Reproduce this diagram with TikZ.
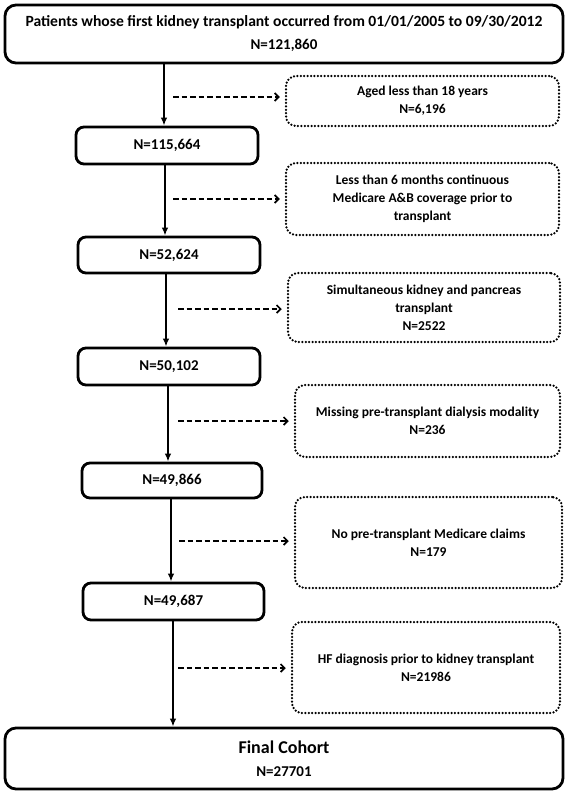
\documentclass[tikz,border=0pt]{standalone}
\usepackage{fontspec}
\setmainfont{Carlito}
\usetikzlibrary{arrows.meta,calc}
\begin{document}
\begin{tikzpicture}[x=1pt,y=-1pt,
  mainbox/.style={draw=black, line width=2.8pt, rounded corners=8pt, inner sep=0pt, align=center, font=\fontsize{15}{23}\selectfont\bfseries},
  widebox/.style={mainbox, rounded corners=11pt},
  exclbox/.style={draw=black, line width=2.5pt, dash pattern=on 0pt off 3.4pt, line cap=round, rounded corners=10pt, inner sep=0pt, align=center, font=\fontsize{13.5}{18}\selectfont\bfseries},
  flow/.style={line width=1.6pt, -{Latex[length=8pt,width=6.5pt]}},
  excl/.style={line width=1.6pt, dash pattern=on 5.5pt off 3pt, -{Straight Barb[length=4pt,width=8pt,line width=1.6pt]}, shorten >=5pt},
]
\useasboundingbox (0,0) rectangle (569,795);

\node[widebox, minimum width=558pt, minimum height=58pt] (top) at (284,34)
  {{\fontsize{15.6}{23}\selectfont Patients whose first kidney transplant occurred from 01/01/2005 to 09/30/2012}\\N=121,860};
\node[mainbox, minimum width=182pt, minimum height=37pt] (b1) at (167,145.5) {N=115,664};
\node[mainbox, minimum width=182pt, minimum height=36pt] (b2) at (169,255) {N=52,624};
\node[mainbox, minimum width=182pt, minimum height=37pt] (b3) at (169,366.5) {N=50,102};
\node[mainbox, minimum width=180pt, minimum height=35pt] (b4) at (172,480.5) {N=49,866};
\node[mainbox, minimum width=181pt, minimum height=37pt] (b5) at (173.5,601.5) {N=49,687};
\node[widebox, minimum width=558pt, minimum height=61pt] (final) at (284,758.5)
  {{\fontsize{18}{23}\selectfont Final Cohort}\\N=27701};

\node[exclbox, minimum width=273pt, minimum height=50pt] (d1) at (422.5,101)
  {Aged less than 18 years\\N=6,196};
\node[exclbox, minimum width=273pt, minimum height=72pt] (d2) at (422.5,199)
  {Less than 6 months continuous\\Medicare A\&B coverage prior to\\transplant};
\node[exclbox, minimum width=272pt, minimum height=69pt] (d3) at (424,307.5)
  {Simultaneous kidney and pancreas\\transplant\\N=2522};
\node[exclbox, minimum width=265pt, minimum height=72pt] (d4) at (427.5,421)
  {Missing pre-transplant dialysis modality\\N=236};
\node[exclbox, minimum width=267pt, minimum height=91pt] (d5) at (428.5,542.5)
  {No pre-transplant Medicare claims\\N=179};
\node[exclbox, minimum width=268pt, minimum height=91pt] (d6) at (426,667.5)
  {HF diagnosis prior to kidney transplant\\N=21986};

\draw[flow] (top.south -| 164,0) -- (164,0 |- b1.north);
\draw[flow] (b1.south -| 165,0) -- (165,0 |- b2.north);
\draw[flow] (b2.south -| 166,0) -- (166,0 |- b3.north);
\draw[flow] (b3.south -| 168,0) -- (168,0 |- b4.north);
\draw[flow] (b4.south -| 171,0) -- (171,0 |- b5.north);
\draw[flow] (b5.south -| 173,0) -- (173,0 |- final.north);

\coordinate (s1) at (173,97);
\coordinate (s2) at (173,199);
\coordinate (s3) at (178,309);
\coordinate (s4) at (178,421);
\coordinate (s5) at (179,541);
\coordinate (s6) at (178,668);
\draw[excl] (s1) -- (s1 -| d1.west);
\draw[excl] (s2) -- (s2 -| d2.west);
\draw[excl] (s3) -- (s3 -| d3.west);
\draw[excl] (s4) -- (s4 -| d4.west);
\draw[excl] (s5) -- (s5 -| d5.west);
\draw[excl] (s6) -- (s6 -| d6.west);
\end{tikzpicture}
\end{document}
